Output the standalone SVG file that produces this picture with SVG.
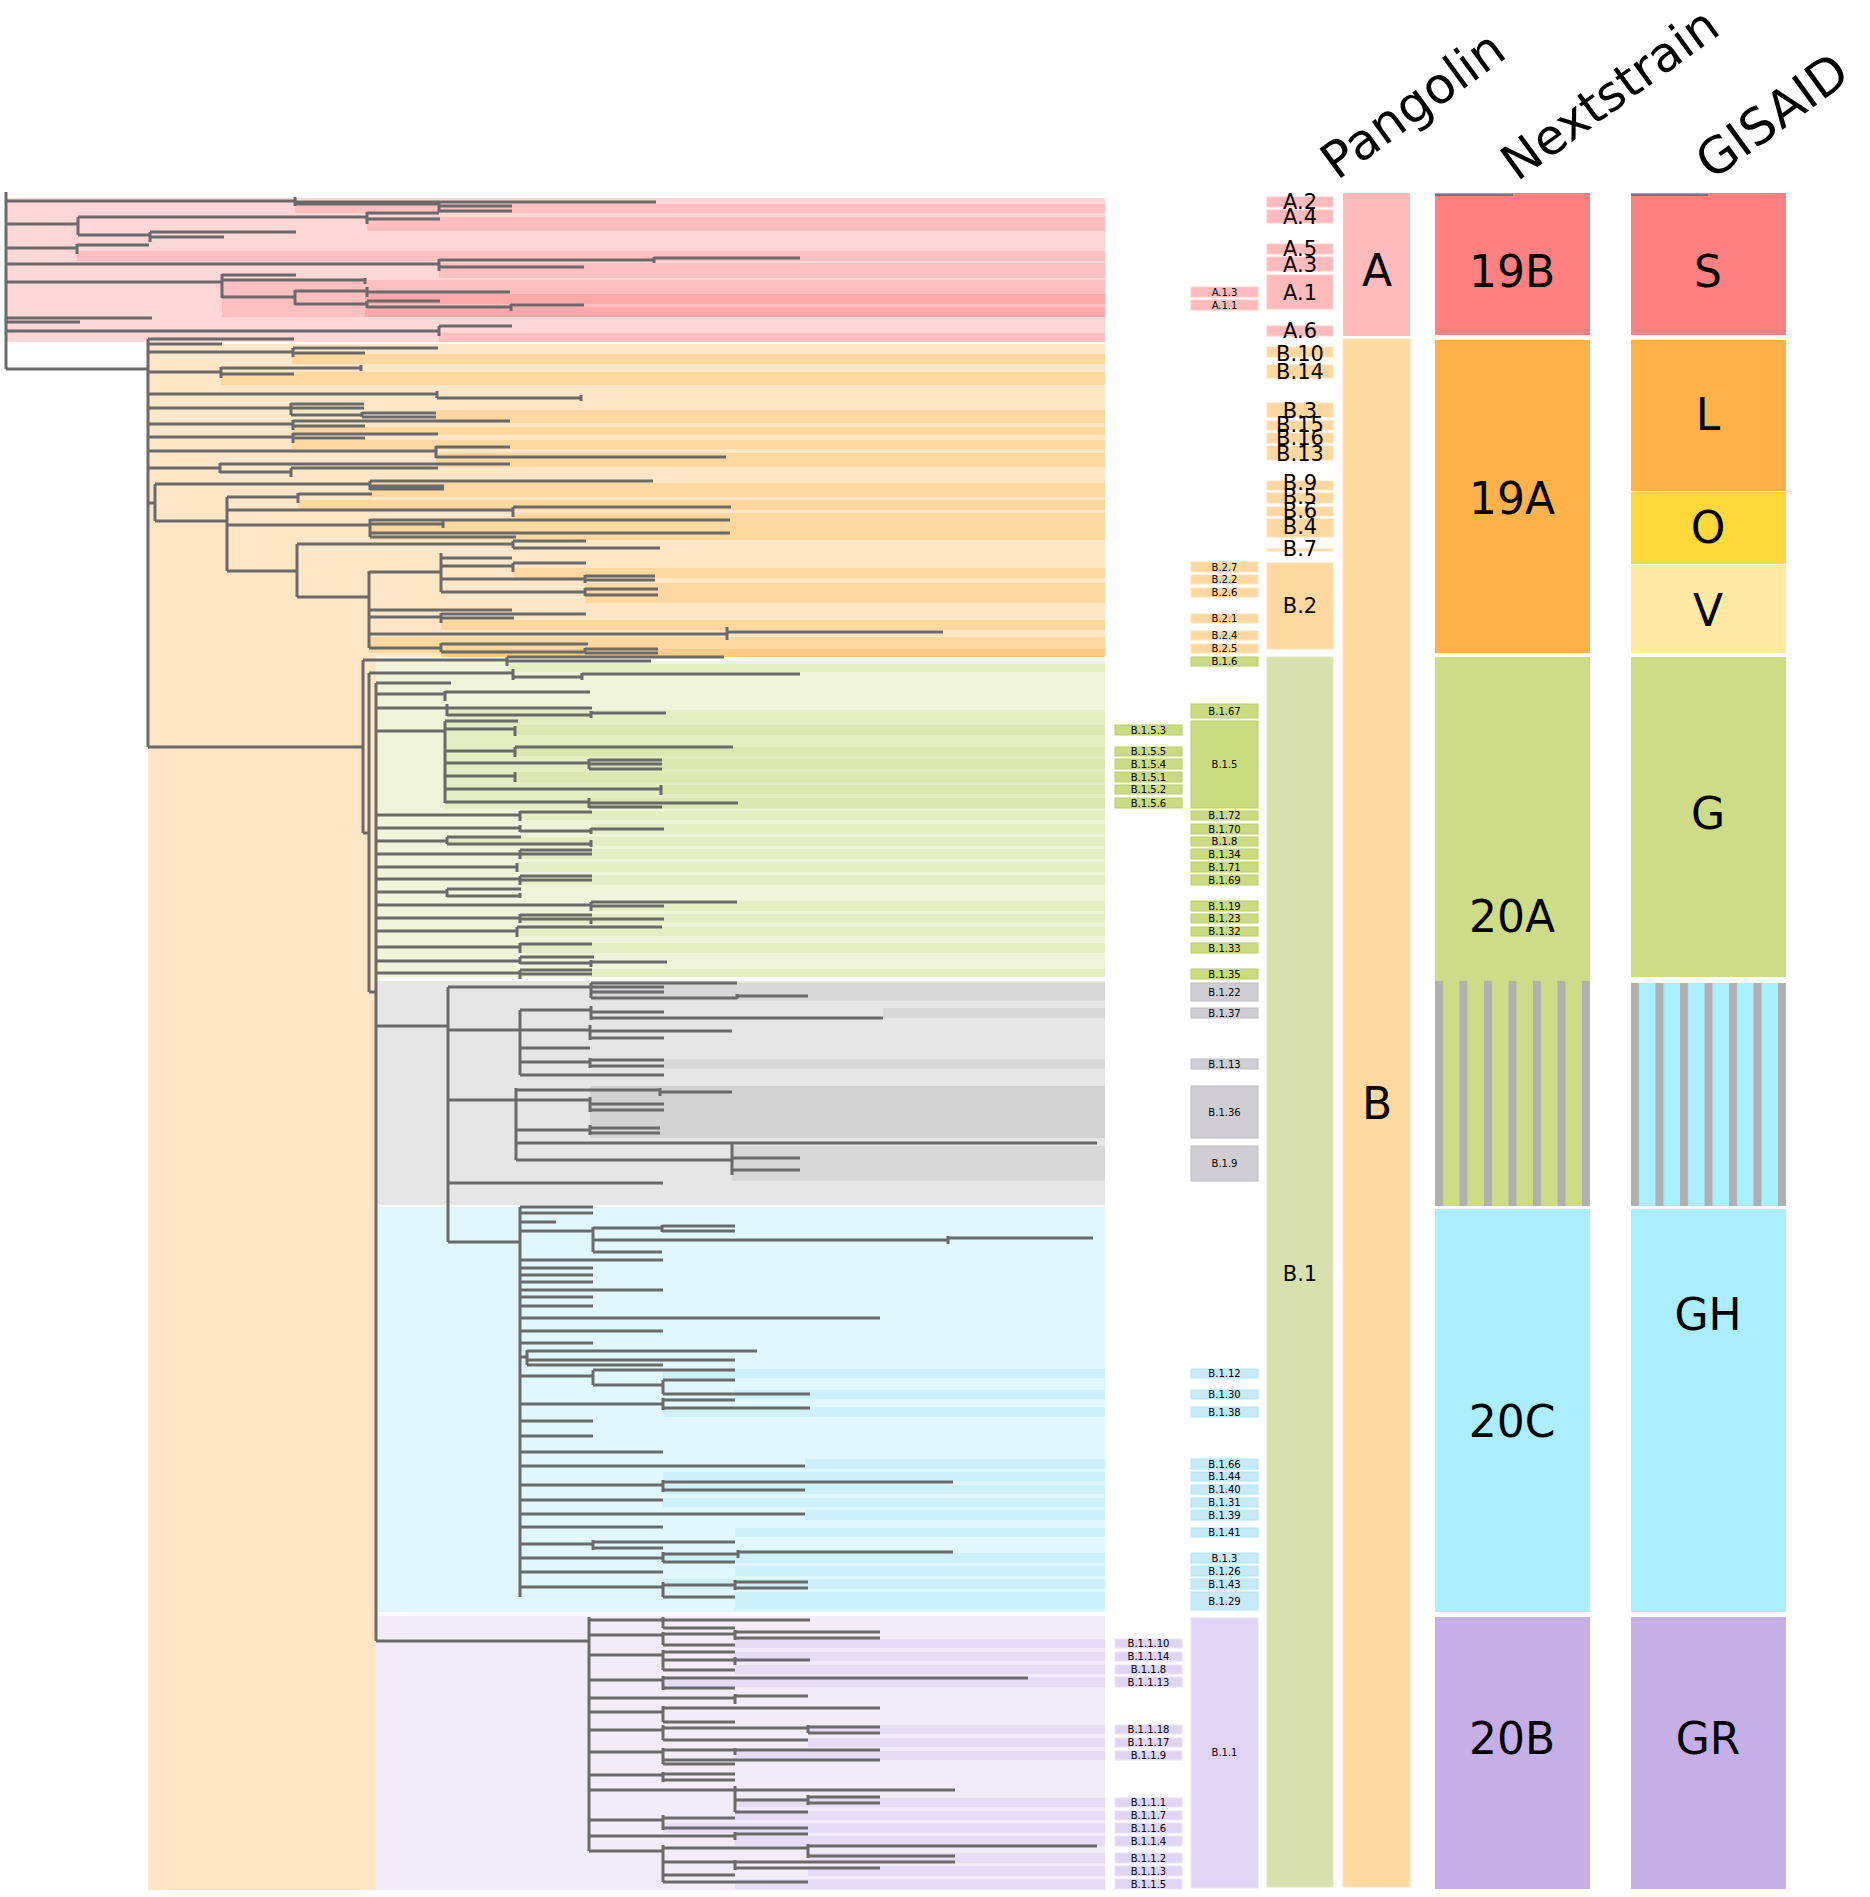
<svg xmlns="http://www.w3.org/2000/svg" width="1870" height="1897" viewBox="0 0 1870 1897">
<defs>
<style>
.t{stroke:#6a6a6a;stroke-width:3;fill:none;stroke-linecap:butt}
.f{font-family:"DejaVu Sans","Verdana",sans-serif;fill:#000;text-anchor:middle}
.L{font-size:21px}
.S{font-size:10px}
.H{font-size:50px;text-anchor:start}
.X{font-size:44px}
.pb{fill:#FFD7D9}.pm{fill:#FFBEBF}.pd{fill:#FFA9AB}
.ob{fill:#FFE6C6}.om{fill:#FFD8A0}.od{fill:#FFCB85}
.gb{fill:#F0F4DB}.gm{fill:#E5EDC3}.gd{fill:#DDE7B0}
.yb{fill:#E6E6E6}.ym{fill:#D8D8D8}.yd{fill:#D2D2D2}
.bb{fill:#E0F7FD}.bm{fill:#CDF1FB}
.vb{fill:#F2ECF9}.vm{fill:#E6DCF5}
.kA{fill:#FFBBBB;stroke:#FFCCCC;stroke-width:1}
.kB{fill:#FFD8A0;stroke:#FFE2B8;stroke-width:1}
.kG{fill:#CADB82;stroke:#BACF6A;stroke-width:1}
.kY{fill:#D0CED4;stroke:#BEBCC2;stroke-width:1}
.kC{fill:#C8E9F8;stroke:#AEE6FA;stroke-width:1}
.kP{fill:#E0D5F4;stroke:#EBE3F8;stroke-width:1}
</style>
<pattern id="sg" patternUnits="userSpaceOnUse" x="1435" y="0" width="24.5" height="10"><rect width="24.5" height="10" fill="#CFDC87"/><rect width="8" height="10" fill="#B0B0B0"/></pattern>
<pattern id="sb" patternUnits="userSpaceOnUse" x="1631" y="0" width="24.5" height="10"><rect width="24.5" height="10" fill="#AAEEFF"/><rect width="8" height="10" fill="#B0B0B0"/></pattern>
</defs>
<rect width="1870" height="1897" fill="#fff"/>

<g id="bands">
<rect class="pb" x="6" y="198" width="1099" height="144"/>
<rect class="pm" x="295" y="204" width="810" height="9"/>
<rect class="pm" x="367" y="217" width="738" height="14"/>
<rect class="pm" x="77" y="251" width="1028" height="10"/>
<rect class="pm" x="439" y="263" width="666" height="15"/>
<rect class="pm" x="222" y="280" width="883" height="37"/>
<rect class="pd" x="365" y="294" width="740" height="10"/>
<rect class="pd" x="365" y="307" width="740" height="10"/>
<rect class="pm" x="439" y="333" width="666" height="9"/>

<rect class="ob" x="148" y="344" width="957" height="313"/>
<rect class="ob" x="148" y="657" width="228" height="1233"/>
<rect class="om" x="292" y="354" width="813" height="10"/>
<rect class="om" x="221" y="372" width="884" height="13"/>
<rect class="om" x="436" y="410" width="669" height="13"/>
<rect class="om" x="293" y="427" width="812" height="8"/>
<rect class="om" x="292" y="440" width="813" height="9"/>
<rect class="om" x="436" y="453" width="669" height="14"/>
<rect class="om" x="370" y="483" width="735" height="14"/>
<rect class="om" x="298" y="500" width="807" height="10"/>
<rect class="om" x="513" y="513" width="592" height="7"/>
<rect class="om" x="370" y="520" width="735" height="20"/>
<rect class="om" x="513" y="568" width="592" height="10"/>
<rect class="om" x="585" y="583" width="520" height="20"/>
<rect class="om" x="441" y="620" width="664" height="10"/>
<rect class="om" x="369" y="637" width="736" height="16"/>
<rect class="od" x="441" y="649" width="664" height="8"/>

<rect class="gb" x="376" y="661" width="729" height="316"/>
<rect class="gm" x="507" y="664" width="598" height="8"/>
<rect class="gm" x="447" y="710" width="658" height="13"/>
<rect class="gm" x="445" y="723" width="660" height="86"/>
<rect class="gd" x="515" y="725" width="590" height="10"/>
<rect class="gd" x="515" y="747" width="590" height="9"/>
<rect class="gd" x="589" y="759" width="516" height="10"/>
<rect class="gd" x="515" y="772" width="590" height="10"/>
<rect class="gd" x="661" y="785" width="444" height="9"/>
<rect class="gd" x="589" y="798" width="516" height="10"/>
<rect class="gm" x="520" y="811" width="585" height="9"/>
<rect class="gm" x="591" y="824" width="514" height="10"/>
<rect class="gm" x="447" y="837" width="658" height="9"/>
<rect class="gm" x="520" y="849" width="585" height="10"/>
<rect class="gm" x="517" y="862" width="588" height="10"/>
<rect class="gm" x="520" y="875" width="585" height="10"/>
<rect class="gm" x="591" y="901" width="514" height="10"/>
<rect class="gm" x="520" y="914" width="585" height="9"/>
<rect class="gm" x="517" y="927" width="588" height="9"/>
<rect class="gm" x="520" y="943" width="585" height="10"/>
<rect class="gm" x="591" y="969" width="514" height="8"/>

<rect class="yb" x="376" y="981" width="729" height="224"/>
<rect class="ym" x="591" y="983" width="514" height="18"/>
<rect class="ym" x="883" y="1008" width="222" height="10"/>
<rect class="ym" x="664" y="1059" width="441" height="10"/>
<rect class="yd" x="590" y="1086" width="515" height="52"/>
<rect class="ym" x="732" y="1146" width="373" height="35"/>

<rect class="bb" x="376" y="1207" width="729" height="405"/>
<rect class="bm" x="663" y="1369" width="442" height="9"/>
<rect class="bm" x="735" y="1390" width="370" height="9"/>
<rect class="bm" x="663" y="1407" width="442" height="10"/>
<rect class="bm" x="805" y="1459" width="300" height="10"/>
<rect class="bm" x="663" y="1472" width="442" height="9"/>
<rect class="bm" x="663" y="1485" width="442" height="9"/>
<rect class="bm" x="663" y="1498" width="442" height="9"/>
<rect class="bm" x="805" y="1510" width="300" height="10"/>
<rect class="bm" x="735" y="1528" width="370" height="9"/>
<rect class="bm" x="663" y="1553" width="442" height="10"/>
<rect class="bm" x="735" y="1566" width="370" height="10"/>
<rect class="bm" x="663" y="1579" width="442" height="10"/>
<rect class="bm" x="735" y="1592" width="370" height="18"/>

<rect class="vb" x="376" y="1616" width="729" height="274"/>
<rect class="vm" x="735" y="1639" width="370" height="9"/>
<rect class="vm" x="735" y="1652" width="370" height="9"/>
<rect class="vm" x="735" y="1665" width="370" height="9"/>
<rect class="vm" x="663" y="1677" width="442" height="10"/>
<rect class="vm" x="808" y="1725" width="297" height="9"/>
<rect class="vm" x="808" y="1738" width="297" height="9"/>
<rect class="vm" x="735" y="1751" width="370" height="9"/>
<rect class="vm" x="735" y="1798" width="370" height="9"/>
<rect class="vm" x="735" y="1811" width="370" height="9"/>
<rect class="vm" x="663" y="1823" width="442" height="10"/>
<rect class="vm" x="735" y="1836" width="370" height="10"/>
<rect class="vm" x="808" y="1853" width="297" height="10"/>
<rect class="vm" x="808" y="1866" width="297" height="10"/>
<rect class="vm" x="735" y="1879" width="370" height="10"/>
</g>

<g id="connectors">
<path class="t" d="M6 192V369
M6 201H295M295 197V206M295 202H656M295 204H439M439 201V212M439 206H512M439 211H512
M6 224H78M78 217V235M78 217H367M367 212V224M367 213H439M367 219H440
M78 235H150M150 232V242M150 232H296M150 237H224
M6 248H77M77 244V254M77 245H149
M6 264H439M439 259V271M439 260H654M654 257V263M654 258H800M439 267H584
M6 282H222M222 274V298M222 275H296M222 280H365M365 278V284M222 297H295M295 290V305M295 291H367M367 287V297M367 292H510M295 304H367M367 301V308M367 301H440M367 307H511M511 304V311M511 305H584
M6 318H152M6 322H80
M6 331H439M439 326V336M439 326H512
M6 369H148M148 339V747
M148 339H294M148 344H222
M148 352H293M293 348V357M293 348H438M293 353H365
M148 372H221M221 367V378M221 368H361M361 365V371M221 374H294
M148 394H437M437 391V398M437 398H581M581 395V401
M148 408H291M291 403V415M291 404H364M291 408H364M291 415H362M362 412V417M362 413H436M362 417H436
M148 424H293M293 420V430M293 421H510M293 426H365
M148 437H293M293 433V443M293 434H438M293 438H365
M148 451H436M436 446V458M436 447H510M436 457H726
M148 468H220M220 463V473M220 464H510M220 472H291M291 468V477M291 468H438
M148 503H155M155 484V521
M155 484H370M370 481V490M370 481H653M370 486H444M370 489H444
M155 521H227M227 497V571
M227 497H298M298 493V503M298 494H372
M227 510H513M513 507V517M513 507H731
M227 525H370M370 519V537M370 520H730M370 524H443M443 521V528M370 533H730M370 537H516
M227 571H297M297 544V597
M297 544H513M513 541V548M513 541H586M513 548H660
M297 597H369M369 571V648
M369 572H441M441 553V592M441 558H512M441 566H513M513 563V572M513 563H586M441 579H585M585 575V583M585 576H655M585 580H655M441 592H585M585 588V596M585 589H658M585 595H658
M369 610H512
M369 617H441M441 613V623M441 614H586M441 618H514
M369 634H727M727 627V640M727 632H943
M369 648H441M441 643V652M441 644H588M441 652H585M585 648V653M585 649H658M585 653H658
M148 747H363M363 660V833
M363 660H507M507 657V666M507 657H724M507 661H651
M363 833H369M369 673V992M369 992H376
M369 673H513M513 669V680M513 677H582M582 673V680M582 674H800
M376 683V1641
M376 683H451
M376 694H445M445 691V701M445 692H590
M376 708H447M447 704V716M447 708H592M447 715H591M591 711V718M591 713H666
M376 731H445M445 721V803
M445 721H518
M445 729H515M515 726V736
M445 751H515M515 747V757M515 747H733
M445 763H589M589 759V769M589 760H662M589 764H662M589 769H662
M445 776H515M515 772V782
M445 789H661M661 785V795
M445 802H589M589 798V808M589 803H738M589 807H662
M376 815H520M520 811V821M520 812H592
M376 828H520M520 825V832M520 831H591M591 828V834M591 829H664
M376 841H447M447 837V844M447 837H521M447 844H591M591 840V847
M376 854H520M520 850V859M520 850H592M520 854H592
M376 867H517M517 863V872
M376 879H520M520 876V885M520 876H592M520 880H592
M376 892H447M447 889V897M447 889H521M447 896H520M520 893V898
M376 905H591M591 902V911M591 902H737M591 906H664
M376 918H520M520 914V923M520 915H592M520 919H664M591 919V924
M376 931H517M517 927V937M517 927H662
M376 947H520M520 943V953M520 944H592
M376 961H520M520 957V964M520 957H594M520 963H591M591 960V967M591 962H667
M376 973H520M520 970V979M520 970H592M520 974H592
M376 1026H448M448 987V1242
M448 987H591M591 983V998M591 983H737M591 987H664M591 992H664M591 998H737M737 994V999M737 996H808
M448 1030H520M520 1010V1075
M520 1010H591M591 1006V1020M591 1012H664M591 1018H883
M520 1030H590M590 1025V1040M590 1031H732M590 1038H664
M520 1048H590
M520 1062H590M590 1058V1068M590 1060H664M590 1066H664
M520 1075H664
M448 1100H516M516 1088V1160
M516 1090H660M660 1088V1096M660 1092H732
M516 1100H590M590 1097V1112M590 1104H664M590 1110H664
M516 1130H590M590 1125V1135M590 1128H660M590 1133H660
M516 1143H800
M516 1160H732M732 1143V1175M732 1143H1097M732 1158H800M732 1170H800
M448 1183H663
M448 1242H520M520 1207V1597
M520 1207H593M520 1213H593M520 1222H556
M520 1231H593M593 1227V1252M593 1228H662M662 1225V1232M662 1226H735M662 1231H735M593 1240H948M948 1236V1244M948 1238H1093M593 1252H662
M520 1260H663M520 1268H593M520 1275H593M520 1282H593M520 1290H663M520 1297H593M520 1306H593
M520 1318H880M520 1331H663M520 1343H593
M520 1357H527M527 1350V1365M527 1351H757M527 1360H735M527 1365H663
M520 1376H593M593 1370V1385M593 1370H735M593 1385H663M663 1380V1394M663 1380H735M663 1394H810
M520 1404H663M663 1398V1410M663 1400H735M663 1408H810
M520 1421H593M520 1436H593M520 1452H663M520 1466H805
M520 1485H663M663 1480V1492M663 1482H953M663 1490H805
M520 1500H663M520 1514H805M520 1527H663
M520 1544H593M593 1540V1550M593 1542H735M593 1548H663
M520 1558H663M663 1552V1562M663 1554H738M738 1550V1558M738 1552H953M663 1562H735
M520 1572H663
M520 1587H663M663 1582V1597M663 1585H735M735 1580V1590M735 1582H808M735 1588H808M663 1597H735
M376 1641H589M589 1617V1851
M589 1620H663M663 1617V1628M663 1620H810M663 1628H735
M589 1635H663M663 1632V1645M663 1634H735M735 1630V1640M735 1632H880M735 1638H880M663 1645H735
M589 1655H663M663 1650V1670M663 1652H735M663 1660H735M735 1657V1665M735 1660H810M663 1670H735
M589 1680H663M663 1676V1690M663 1678H1028M663 1688H735
M589 1698H735M735 1694V1704M735 1696H808
M589 1712H663M663 1706V1722M663 1708H880M663 1722H735
M589 1730H663M663 1725V1740M663 1728H808M808 1725V1733M808 1727H880M808 1733H880M663 1740H808
M589 1752H663M663 1748V1764M663 1750H735M735 1748V1755M735 1750H880M663 1760H880M663 1764H735
M589 1775H663M663 1772V1782M663 1774H735M663 1780H735
M589 1790H735M735 1786V1812M735 1790H955M735 1800H808M808 1795V1805M808 1797H880M808 1803H880M735 1812H808
M589 1820H663M663 1815V1830M663 1818H735M663 1828H808
M589 1836H735M735 1832V1840M735 1834H808
M589 1851H663M663 1845V1882M663 1848H808M808 1844V1858M808 1846H1097M808 1856H955M663 1862H735M735 1860V1870M735 1862H955M735 1868H880M663 1875H735M663 1882H808"/>
</g>

<g id="headers">
<text class="f H" transform="translate(1337 181) rotate(-36)">Pangolin</text>
<text class="f H" style="font-size:49px" transform="translate(1517 182) rotate(-36)">Nextstrain</text>
<text class="f H" transform="translate(1712 181) rotate(-36)">GISAID</text>
</g>

<g id="pangolin-col3">
<g id="A.2"><rect class="kA" x="1267" y="197" width="66" height="10"/><text class="f L" x="1300" y="209">A.2</text></g>
<g id="A.4"><rect class="kA" x="1267" y="210" width="66" height="13"/><text class="f L" x="1300" y="224">A.4</text></g>
<g id="A.5"><rect class="kA" x="1267" y="244" width="66" height="10"/><text class="f L" x="1300" y="256">A.5</text></g>
<g id="A.3"><rect class="kA" x="1267" y="257" width="66" height="14"/><text class="f L" x="1300" y="272">A.3</text></g>
<g id="A.1"><rect class="kA" x="1267" y="275" width="66" height="34"/><text class="f L" x="1300" y="300">A.1</text></g>
<g id="A.6"><rect class="kA" x="1267" y="326" width="66" height="10"/><text class="f L" x="1300" y="338">A.6</text></g>
<g id="B.10"><rect class="kB" x="1267" y="347" width="66" height="10"/><text class="f L" x="1300" y="361">B.10</text></g>
<g id="B.14"><rect class="kB" x="1267" y="365" width="66" height="13"/><text class="f L" x="1300" y="379">B.14</text></g>
<g id="B.3"><rect class="kB" x="1267" y="403" width="66" height="14"/><text class="f L" x="1300" y="418">B.3</text></g>
<g id="B.15"><rect class="kB" x="1267" y="421" width="66" height="9"/><text class="f L" x="1300" y="432">B.15</text></g>
<g id="B.16"><rect class="kB" x="1267" y="433" width="66" height="10"/><text class="f L" x="1300" y="445">B.16</text></g>
<g id="B.13"><rect class="kB" x="1267" y="446" width="66" height="14"/><text class="f L" x="1300" y="461">B.13</text></g>
<g id="B.9"><rect class="kB" x="1267" y="481" width="66" height="9"/><text class="f L" x="1300" y="490">B.9</text></g>
<g id="B.5"><rect class="kB" x="1267" y="493" width="66" height="10"/><text class="f L" x="1300" y="504">B.5</text></g>
<g id="B.6"><rect class="kB" x="1267" y="507" width="66" height="9"/><text class="f L" x="1300" y="518">B.6</text></g>
<g id="B.4"><rect class="kB" x="1267" y="519" width="66" height="18"/><text class="f L" x="1300" y="534">B.4</text></g>
<g id="B.7"><rect class="kB" x="1267" y="549" width="66" height="2"/><text class="f L" x="1300" y="556">B.7</text></g>
<g id="B.2"><rect class="kB" x="1267" y="563" width="66" height="86"/><text class="f L" x="1300" y="613">B.2</text></g>
<g id="B.1"><rect x="1267" y="657" width="66" height="1230" fill="#D8E0AD" stroke="#E4EAC6" stroke-width="1"/><text class="f L" x="1300" y="1281">B.1</text></g>
</g>

<g id="pangolin-col2">
<g id="A.1.3"><rect class="kA" x="1191" y="287" width="67" height="10"/><text class="f S" x="1224.5" y="295.5">A.1.3</text></g>
<g id="A.1.1"><rect class="kA" x="1191" y="300" width="67" height="10"/><text class="f S" x="1224.5" y="308.5">A.1.1</text></g>
<g id="B.2.7"><rect class="kB" x="1191" y="562" width="67" height="10"/><text class="f S" x="1224.5" y="570.5">B.2.7</text></g>
<g id="B.2.2"><rect class="kB" x="1191" y="575" width="67" height="9"/><text class="f S" x="1224.5" y="583">B.2.2</text></g>
<g id="B.2.6"><rect class="kB" x="1191" y="588" width="67" height="9"/><text class="f S" x="1224.5" y="596">B.2.6</text></g>
<g id="B.2.1"><rect class="kB" x="1191" y="614" width="67" height="9"/><text class="f S" x="1224.5" y="622">B.2.1</text></g>
<g id="B.2.4"><rect class="kB" x="1191" y="631" width="67" height="9"/><text class="f S" x="1224.5" y="639">B.2.4</text></g>
<g id="B.2.5"><rect class="kB" x="1191" y="644" width="67" height="9"/><text class="f S" x="1224.5" y="652">B.2.5</text></g>
<g id="B.1.6"><rect class="kG" x="1191" y="657" width="67" height="9"/><text class="f S" x="1224.5" y="665">B.1.6</text></g>
<g id="B.1.67"><rect class="kG" x="1191" y="704" width="67" height="14"/><text class="f S" x="1224.5" y="714.5">B.1.67</text></g>
<g id="B.1.5"><rect class="kG" x="1191" y="721" width="67" height="87"/><text class="f S" x="1224.5" y="768">B.1.5</text></g>
<g id="B.1.72"><rect class="kG" x="1191" y="811" width="67" height="9"/><text class="f S" x="1224.5" y="819">B.1.72</text></g>
<g id="B.1.70"><rect class="kG" x="1191" y="824" width="67" height="10"/><text class="f S" x="1224.5" y="832.5">B.1.70</text></g>
<g id="B.1.8"><rect class="kG" x="1191" y="837" width="67" height="9"/><text class="f S" x="1224.5" y="845">B.1.8</text></g>
<g id="B.1.34"><rect class="kG" x="1191" y="849" width="67" height="10"/><text class="f S" x="1224.5" y="857.5">B.1.34</text></g>
<g id="B.1.71"><rect class="kG" x="1191" y="862" width="67" height="10"/><text class="f S" x="1224.5" y="870.5">B.1.71</text></g>
<g id="B.1.69"><rect class="kG" x="1191" y="875" width="67" height="10"/><text class="f S" x="1224.5" y="883.5">B.1.69</text></g>
<g id="B.1.19"><rect class="kG" x="1191" y="901" width="67" height="10"/><text class="f S" x="1224.5" y="909.5">B.1.19</text></g>
<g id="B.1.23"><rect class="kG" x="1191" y="914" width="67" height="9"/><text class="f S" x="1224.5" y="922">B.1.23</text></g>
<g id="B.1.32"><rect class="kG" x="1191" y="927" width="67" height="9"/><text class="f S" x="1224.5" y="935">B.1.32</text></g>
<g id="B.1.33"><rect class="kG" x="1191" y="943" width="67" height="10"/><text class="f S" x="1224.5" y="951.5">B.1.33</text></g>
<g id="B.1.35"><rect class="kG" x="1191" y="969" width="67" height="10"/><text class="f S" x="1224.5" y="977.5">B.1.35</text></g>
<g id="B.1.22"><rect class="kY" x="1191" y="983" width="67" height="18"/><text class="f S" x="1224.5" y="995.5">B.1.22</text></g>
<g id="B.1.37"><rect class="kY" x="1191" y="1008" width="67" height="10"/><text class="f S" x="1224.5" y="1016.5">B.1.37</text></g>
<g id="B.1.13"><rect class="kY" x="1191" y="1059" width="67" height="10"/><text class="f S" x="1224.5" y="1067.5">B.1.13</text></g>
<g id="B.1.36"><rect class="kY" x="1191" y="1086" width="67" height="52"/><text class="f S" x="1224.5" y="1115.5">B.1.36</text></g>
<g id="B.1.9"><rect class="kY" x="1191" y="1146" width="67" height="35"/><text class="f S" x="1224.5" y="1167">B.1.9</text></g>
<g id="B.1.12"><rect class="kC" x="1191" y="1369" width="67" height="9"/><text class="f S" x="1224.5" y="1377">B.1.12</text></g>
<g id="B.1.30"><rect class="kC" x="1191" y="1390" width="67" height="9"/><text class="f S" x="1224.5" y="1398">B.1.30</text></g>
<g id="B.1.38"><rect class="kC" x="1191" y="1407" width="67" height="10"/><text class="f S" x="1224.5" y="1415.5">B.1.38</text></g>
<g id="B.1.66"><rect class="kC" x="1191" y="1459" width="67" height="10"/><text class="f S" x="1224.5" y="1467.5">B.1.66</text></g>
<g id="B.1.44"><rect class="kC" x="1191" y="1472" width="67" height="9"/><text class="f S" x="1224.5" y="1480">B.1.44</text></g>
<g id="B.1.40"><rect class="kC" x="1191" y="1485" width="67" height="9"/><text class="f S" x="1224.5" y="1493">B.1.40</text></g>
<g id="B.1.31"><rect class="kC" x="1191" y="1498" width="67" height="9"/><text class="f S" x="1224.5" y="1506">B.1.31</text></g>
<g id="B.1.39"><rect class="kC" x="1191" y="1510" width="67" height="10"/><text class="f S" x="1224.5" y="1518.5">B.1.39</text></g>
<g id="B.1.41"><rect class="kC" x="1191" y="1528" width="67" height="9"/><text class="f S" x="1224.5" y="1536">B.1.41</text></g>
<g id="B.1.3"><rect class="kC" x="1191" y="1553" width="67" height="10"/><text class="f S" x="1224.5" y="1561.5">B.1.3</text></g>
<g id="B.1.26"><rect class="kC" x="1191" y="1566" width="67" height="10"/><text class="f S" x="1224.5" y="1574.5">B.1.26</text></g>
<g id="B.1.43"><rect class="kC" x="1191" y="1579" width="67" height="10"/><text class="f S" x="1224.5" y="1587.5">B.1.43</text></g>
<g id="B.1.29"><rect class="kC" x="1191" y="1592" width="67" height="18"/><text class="f S" x="1224.5" y="1604.5">B.1.29</text></g>
<g id="B.1.1"><rect class="kP" x="1191" y="1618" width="67" height="270"/><text class="f S" x="1224.5" y="1756">B.1.1</text></g>
</g>

<g id="pangolin-col1">
<g id="B.1.5.3"><rect class="kG" x="1115" y="725" width="67" height="10"/><text class="f S" x="1148.5" y="733.5">B.1.5.3</text></g>
<g id="B.1.5.5"><rect class="kG" x="1115" y="747" width="67" height="9"/><text class="f S" x="1148.5" y="755">B.1.5.5</text></g>
<g id="B.1.5.4"><rect class="kG" x="1115" y="759" width="67" height="10"/><text class="f S" x="1148.5" y="767.5">B.1.5.4</text></g>
<g id="B.1.5.1"><rect class="kG" x="1115" y="772" width="67" height="10"/><text class="f S" x="1148.5" y="780.5">B.1.5.1</text></g>
<g id="B.1.5.2"><rect class="kG" x="1115" y="785" width="67" height="9"/><text class="f S" x="1148.5" y="793">B.1.5.2</text></g>
<g id="B.1.5.6"><rect class="kG" x="1115" y="798" width="67" height="10"/><text class="f S" x="1148.5" y="806.5">B.1.5.6</text></g>
<g id="B.1.1.10"><rect class="kP" x="1115" y="1639" width="67" height="9"/><text class="f S" x="1148.5" y="1647">B.1.1.10</text></g>
<g id="B.1.1.14"><rect class="kP" x="1115" y="1652" width="67" height="9"/><text class="f S" x="1148.5" y="1660">B.1.1.14</text></g>
<g id="B.1.1.8"><rect class="kP" x="1115" y="1665" width="67" height="9"/><text class="f S" x="1148.5" y="1673">B.1.1.8</text></g>
<g id="B.1.1.13"><rect class="kP" x="1115" y="1677" width="67" height="10"/><text class="f S" x="1148.5" y="1685.5">B.1.1.13</text></g>
<g id="B.1.1.18"><rect class="kP" x="1115" y="1725" width="67" height="9"/><text class="f S" x="1148.5" y="1733">B.1.1.18</text></g>
<g id="B.1.1.17"><rect class="kP" x="1115" y="1738" width="67" height="9"/><text class="f S" x="1148.5" y="1746">B.1.1.17</text></g>
<g id="B.1.1.9"><rect class="kP" x="1115" y="1751" width="67" height="9"/><text class="f S" x="1148.5" y="1759">B.1.1.9</text></g>
<g id="B.1.1.1"><rect class="kP" x="1115" y="1798" width="67" height="9"/><text class="f S" x="1148.5" y="1806">B.1.1.1</text></g>
<g id="B.1.1.7"><rect class="kP" x="1115" y="1811" width="67" height="9"/><text class="f S" x="1148.5" y="1819">B.1.1.7</text></g>
<g id="B.1.1.6"><rect class="kP" x="1115" y="1823" width="67" height="10"/><text class="f S" x="1148.5" y="1831.5">B.1.1.6</text></g>
<g id="B.1.1.4"><rect class="kP" x="1115" y="1836" width="67" height="10"/><text class="f S" x="1148.5" y="1844.5">B.1.1.4</text></g>
<g id="B.1.1.2"><rect class="kP" x="1115" y="1853" width="67" height="10"/><text class="f S" x="1148.5" y="1861.5">B.1.1.2</text></g>
<g id="B.1.1.3"><rect class="kP" x="1115" y="1866" width="67" height="10"/><text class="f S" x="1148.5" y="1874.5">B.1.1.3</text></g>
<g id="B.1.1.5"><rect class="kP" x="1115" y="1879" width="67" height="10"/><text class="f S" x="1148.5" y="1887.5">B.1.1.5</text></g>
</g>

<g id="pangolin-top">
<g id="A"><rect x="1343" y="193" width="67" height="143" fill="#FFBBBB"/><text class="f X" x="1377" y="286">A</text></g>
<g id="B"><rect x="1343" y="339" width="67" height="1548" fill="#FFD9A0" stroke="#FFE4BC" stroke-width="1"/><text class="f X" x="1377" y="1119">B</text></g>
</g>

<g id="nextstrain">
<g id="n19B"><rect x="1435" y="193" width="155" height="142" fill="#FF8080"/><text class="f X" x="1512" y="287">19B</text></g>
<g id="n19A"><rect x="1435" y="340" width="155" height="313" fill="#FFB24A"/><text class="f X" x="1512" y="514">19A</text></g>
<g id="n20A"><rect x="1435" y="657" width="155" height="324" fill="#CFDC87"/><rect x="1435" y="981" width="155" height="225" fill="url(#sg)"/><text class="f X" x="1512" y="932">20A</text></g>
<g id="n20C"><rect x="1435" y="1209" width="155" height="403" fill="#AAEEFF"/><text class="f X" x="1512" y="1437">20C</text></g>
<g id="n20B"><rect x="1435" y="1617" width="155" height="272" fill="#C6AEE6"/><text class="f X" x="1512" y="1754">20B</text></g>
<path d="M1435 195H1513" stroke="#777" stroke-width="2"/>
</g>

<g id="gisaid">
<g id="gS"><rect x="1631" y="193" width="155" height="142" fill="#FF8080"/><text class="f X" x="1708" y="287">S</text></g>
<g id="gL"><rect x="1631" y="340" width="155" height="151" fill="#FFB24A"/><text class="f X" x="1708" y="430">L</text></g>
<g id="gO"><rect x="1631" y="492" width="155" height="72" fill="#FFD83C"/><text class="f X" x="1708" y="543">O</text></g>
<g id="gV"><rect x="1631" y="565" width="155" height="88" fill="#FFE9A3"/><text class="f X" x="1708" y="626">V</text></g>
<g id="gG"><rect x="1631" y="657" width="155" height="320" fill="#CFDC87"/><text class="f X" x="1708" y="829">G</text></g>
<g id="gGstripe"><rect x="1631" y="983" width="155" height="223" fill="url(#sb)"/></g>
<g id="gGH"><rect x="1631" y="1209" width="155" height="403" fill="#AAEEFF"/><text class="f X" x="1708" y="1330">GH</text></g>
<g id="gGR"><rect x="1631" y="1617" width="155" height="272" fill="#C6AEE6"/><text class="f X" x="1708" y="1754">GR</text></g>
<path d="M1631 195H1708" stroke="#777" stroke-width="2"/>
</g>
</svg>
